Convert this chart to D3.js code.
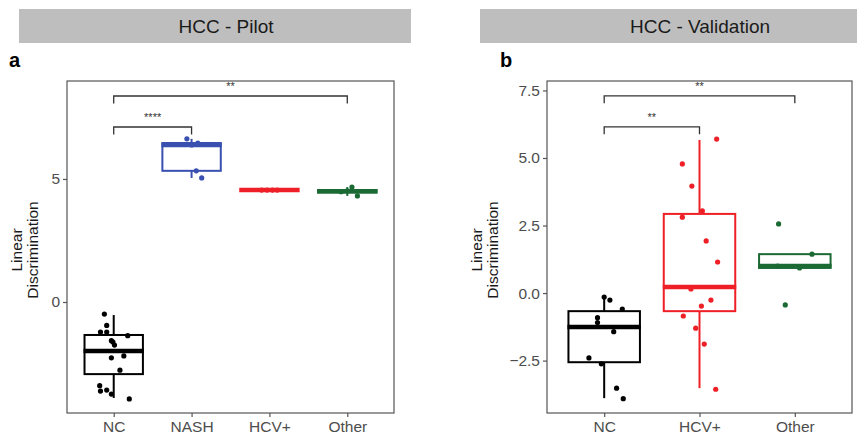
<!DOCTYPE html>
<html>
<head>
<meta charset="utf-8">
<script src="https://cdn.jsdelivr.net/npm/d3@7"></script>
<style>
  body { margin: 0; background: #fff; }
  svg { font-family: "Liberation Sans", Arial, sans-serif; }
</style>
</head>
<body>
<div id="chart"></div>
<script>
// ---- panel a: HCC - Pilot ----
const pilotCategories = ['NC', 'NASH', 'HCV+', 'Other']
const pilotColors = ['#000000', '#3A50B0', '#EE1F26', '#1B6A34']
const pilotQ1 = [-2.93, 5.33, 4.55, 4.45]
const pilotMedian = [-1.99, 6.38, 4.55, 4.50]
const pilotQ3 = [-1.34, 6.46, 4.55, 4.55]
const pilotLow = [-3.90, 5.04, 4.55, 4.31]
const pilotHigh = [-0.53, 6.63, 4.55, 4.67]
const pilotNC = [-0.49, -0.95, -1.22, -1.22, -1.37, -1.57, -1.63, -1.75, -2.19, -2.27, -2.77, -3.40, -3.62, -3.58, -3.74, -3.94]
const pilotNCJitter = [-0.12, -0.09, -0.17, -0.09, 0.18, -0.03, -0.01, 0.01, 0.13, -0.03, 0.08, -0.18, -0.17, -0.09, -0.03, 0.2]
const pilotNASH = [6.63, 6.46, 6.38, 5.33, 5.04]
const pilotNASHJitter = [-0.06, 0.08, 0, 0.06, 0.13]
const pilotHCV = [4.55, 4.55, 4.55, 4.55]
const pilotHCVJitter = [-0.1, -0.03, 0.04, 0.1]
const pilotOther = [4.67, 4.52, 4.48, 4.31]
const pilotOtherJitter = [0.06, 0, -0.08, 0.13]
const pilotTicks = [0, 5]
const pilotComparisons = [
  { from: 'NC', to: 'Other', y: 8.37, label: '**' },
  { from: 'NC', to: 'NASH', y: 7.11, label: '****' }
]

// ---- panel b: HCC - Validation ----
const validCategories = ['NC', 'HCV+', 'Other']
const validColors = ['#000000', '#EE1F26', '#1B6A34']
const validQ1 = [-2.56, -0.67, 0.93]
const validMedian = [-1.26, 0.22, 1.0]
const validQ3 = [-0.67, 2.93, 1.44]
const validLow = [-3.89, -3.52, 0.93]
const validHigh = [-0.15, 5.67, 1.44]
const validNC = [-0.15, -0.26, -0.59, -0.91, -1.09, -1.43, -2.40, -2.62, -3.52, -3.91]
const validNCJitter = [0, 0.06, 0.19, -0.07, -0.07, 0.1, -0.16, -0.03, 0.13, 0.2]
const validHCV = [5.70, 4.78, 3.96, 3.04, 2.81, 1.93, 1.15, 0.15, -0.26, -0.48, -0.85, -1.30, -1.89, -3.56]
const validHCVJitter = [0.18, -0.18, -0.08, 0.03, -0.18, 0.07, 0.19, -0.09, 0.12, 0.02, -0.17, -0.04, 0.05, 0.17]
const validOther = [2.56, 1.44, 0.93, 1.0, -0.44]
const validOtherJitter = [-0.17, 0.18, 0.05, -0.18, -0.1]
const validTicks = [-2.5, 0, 2.5, 5, 7.5]
const validComparisons = [
  { from: 'NC', to: 'Other', y: 7.30, label: '**' },
  { from: 'NC', to: 'HCV+', y: 6.15, label: '**' }
]

const svg = d3.select('#chart').append('svg')
  .attr('width', 857)
  .attr('height', 438)

const drawPanel = function (opt) {
  const g = svg.append('g')

  // strip header
  g.append('rect')
    .attr('x', opt.strip[0]).attr('y', 9)
    .attr('width', opt.strip[1] - opt.strip[0]).attr('height', 34)
    .attr('fill', '#BEBEBE')
  g.append('text')
    .attr('x', opt.titleX).attr('y', 33)
    .attr('text-anchor', 'middle')
    .attr('font-size', 19)
    .attr('fill', '#1a1a1a')
    .text(opt.title)
  g.append('text')
    .attr('x', opt.letterX).attr('y', 67)
    .attr('font-size', 20)
    .attr('font-weight', 'bold')
    .text(opt.letter)

  const x = d3.scalePoint()
    .domain(opt.categories)
    .range([opt.left, opt.right])
    .padding(0.6)
  const y = d3.scaleLinear()
    .domain(opt.domain)
    .range([413, 81])
  const step = x.step()
  const boxW = step * 0.75

  // panel border
  g.append('rect')
    .attr('x', opt.left).attr('y', 81)
    .attr('width', opt.right - opt.left).attr('height', 332)
    .attr('fill', 'none')
    .attr('stroke', '#555')
    .attr('stroke-width', 1.2)

  // axes
  const yAxis = g.append('g')
    .attr('transform', 'translate(' + opt.left + ',0)')
    .call(d3.axisLeft(y).tickValues(opt.ticks).tickSize(4).tickPadding(3).tickFormat(opt.format))
  const xAxis = g.append('g')
    .attr('transform', 'translate(0,413)')
    .call(d3.axisBottom(x).tickSize(4).tickPadding(4))
  ;[yAxis, xAxis].forEach(function (a) {
    a.select('.domain').remove()
    a.selectAll('line').attr('stroke', '#555').attr('stroke-width', 1.2)
    a.selectAll('text').attr('fill', '#4D4D4D').attr('font-size', 15.5)
      .attr('font-family', '"Liberation Sans", Arial, sans-serif')
  })

  // y title
  const ty = g.append('text')
    .attr('transform', 'translate(' + opt.yTitleX + ',250) rotate(-90)')
    .attr('text-anchor', 'middle')
    .attr('font-size', 15.5)
    .attr('fill', '#1a1a1a')
  ty.append('tspan').attr('x', 0).attr('dy', 0).text('Linear')
  ty.append('tspan').attr('x', 0).attr('dy', 16).text('Discrimination')

  // boxes
  opt.categories.forEach(function (c, i) {
    const cx = x(c)
    const col = opt.colors[i]
    const bg = g.append('g')
    bg.append('line')
      .attr('x1', cx).attr('x2', cx)
      .attr('y1', y(opt.high[i])).attr('y2', y(opt.q3[i]))
      .attr('stroke', col).attr('stroke-width', 2)
    bg.append('line')
      .attr('x1', cx).attr('x2', cx)
      .attr('y1', y(opt.q1[i])).attr('y2', y(opt.low[i]))
      .attr('stroke', col).attr('stroke-width', 2)
    bg.append('rect')
      .attr('x', cx - boxW / 2).attr('y', y(opt.q3[i]))
      .attr('width', boxW).attr('height', Math.max(0, y(opt.q1[i]) - y(opt.q3[i])))
      .attr('fill', '#fff')
      .attr('stroke', col).attr('stroke-width', 2)
    bg.append('line')
      .attr('x1', cx - boxW / 2 - 1).attr('x2', cx + boxW / 2 + 1)
      .attr('y1', y(opt.median[i])).attr('y2', y(opt.median[i]))
      .attr('stroke', col).attr('stroke-width', 4.5)
  })

  // jittered points
  opt.points.forEach(function (vals, i) {
    const c = opt.categories[i]
    const jit = opt.jitter[i]
    g.append('g').selectAll('circle')
      .data(vals)
      .enter()
      .append('circle')
      .attr('cx', function (d, k) { return x(c) + jit[k] * step })
      .attr('cy', function (d) { return y(d) })
      .attr('r', 2.6)
      .attr('fill', opt.colors[i])
  })

  // significance brackets
  const drop = opt.drop
  opt.comparisons.forEach(function (cmp) {
    const x1 = x(cmp.from)
    const x2 = x(cmp.to)
    g.append('path')
      .attr('d', 'M' + x1 + ',' + y(cmp.y - drop) + 'V' + y(cmp.y) + 'H' + x2 + 'V' + y(cmp.y - drop))
      .attr('fill', 'none')
      .attr('stroke', '#333')
      .attr('stroke-width', 1.3)
    g.append('text')
      .attr('x', (x1 + x2) / 2).attr('y', y(cmp.y) - 6)
      .attr('text-anchor', 'middle')
      .attr('font-size', 11)
      .attr('fill', '#333')
      .text(cmp.label)
  })
}

drawPanel({
  title: 'HCC - Pilot', strip: [19, 411], titleX: 226,
  letter: 'a', letterX: 9,
  left: 67, right: 394, domain: [-4.51, 8.98],
  ticks: pilotTicks, format: d3.format('d'), yTitleX: 22,
  categories: pilotCategories, colors: pilotColors,
  q1: pilotQ1, median: pilotMedian, q3: pilotQ3, low: pilotLow, high: pilotHigh,
  points: [pilotNC, pilotNASH, pilotHCV, pilotOther],
  jitter: [pilotNCJitter, pilotNASHJitter, pilotHCVJitter, pilotOtherJitter],
  comparisons: pilotComparisons, drop: 0.3
})

drawPanel({
  title: 'HCC - Validation', strip: [480, 857], titleX: 700,
  letter: 'b', letterX: 500,
  left: 547, right: 852, domain: [-4.44, 7.85],
  ticks: validTicks, format: d3.format('.1f'), yTitleX: 482,
  categories: validCategories, colors: validColors,
  q1: validQ1, median: validMedian, q3: validQ3, low: validLow, high: validHigh,
  points: [validNC, validHCV, validOther],
  jitter: [validNCJitter, validHCVJitter, validOtherJitter],
  comparisons: validComparisons, drop: 0.27
})
</script>
</body>
</html>
